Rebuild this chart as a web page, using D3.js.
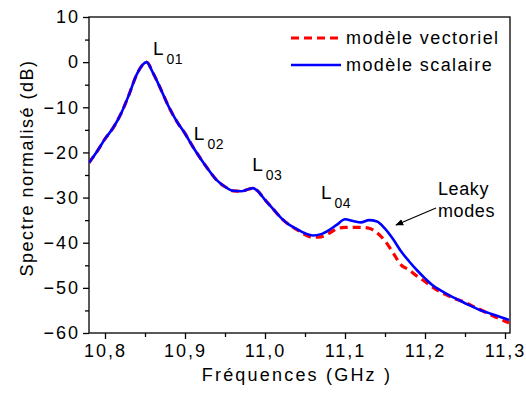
<!DOCTYPE html>
<html>
<head>
<meta charset="utf-8">
<script src="https://cdn.jsdelivr.net/npm/d3@7"></script>
<style>
  body { margin: 0; background: #fff; }
  text { font-family: "Liberation Sans", Arial, sans-serif; fill: #000; }
</style>
</head>
<body>
<div id="chart"></div>
<script>
// frequencies (GHz)
var freq = [10.78, 10.79, 10.80, 10.81, 10.82, 10.83, 10.84, 10.852, 10.86, 10.87, 10.88, 10.89,
    10.90, 10.91, 10.92, 10.93, 10.94, 10.95, 10.96, 10.97, 10.98, 10.985, 10.99, 11.00, 11.01,
    11.02, 11.03, 11.04, 11.05, 11.06, 11.07, 11.08, 11.09, 11.10, 11.11, 11.12, 11.13, 11.14,
    11.15, 11.16, 11.17, 11.18, 11.19, 11.20, 11.21, 11.22, 11.23, 11.24, 11.25, 11.26, 11.27,
    11.28, 11.29, 11.30, 11.305];
// modèle scalaire (dB)
var scalaire = [-22.3, -19.8, -17.0, -14.6, -11.4, -7.2, -2.6, 0, -2.4, -6.1, -10.0, -13.2,
    -15.8, -18.8, -21.5, -24.0, -26.2, -27.6, -28.5, -28.6, -28.1, -27.9, -28.4, -30.5, -32.5,
    -34.5, -36.0, -37.0, -37.9, -38.4, -38.1, -37.2, -36.0, -34.8, -35.2, -35.5, -35.0, -35.3,
    -36.9, -39.2, -41.9, -44.1, -46.1, -47.9, -49.5, -50.6, -51.6, -52.5, -53.4, -54.2, -55.0,
    -55.6, -56.2, -56.8, -57.1];
// modèle vectoriel (dB)
var vectoriel = [-22.3, -19.8, -17.0, -14.6, -11.4, -7.2, -2.6, 0, -2.4, -6.1, -10.0, -13.2,
    -15.8, -18.8, -21.5, -24.0, -26.2, -27.6, -28.5, -28.6, -28.1, -27.9, -28.4, -30.5, -32.5,
    -34.5, -36.0, -37.1, -38.2, -38.8, -38.7, -37.9, -36.9, -36.6, -36.6, -36.6, -36.8, -37.8,
    -39.6, -42.2, -44.9, -46.0, -47.4, -48.6, -49.9, -51.0, -51.8, -52.6, -53.2, -54.1, -54.9,
    -55.8, -56.6, -57.4, -57.8];

var xMajor = [10.8, 10.9, 11.0, 11.1, 11.2, 11.3];
var xMinor = [10.85, 10.95, 11.05, 11.15, 11.25];
var yMajor = [-60, -50, -40, -30, -20, -10, 0, 10];
var yMinor = [-55, -45, -35, -25, -15, -5, 5];

var labels = [
    {main: "L", sub: "01", f: 10.86, v: 1.5},
    {main: "L", sub: "02", f: 10.911, v: -17.2},
    {main: "L", sub: "03", f: 10.984, v: -24.2},
    {main: "L", sub: "04", f: 11.070, v: -30.4}
];

var W = 526, H = 402;
var pLeft = 89, pRight = 510, pTop = 17, pBottom = 333;
var font = 18;

var svg = d3.select("#chart").append("svg")
    .attr("width", W)
    .attr("height", H);

var x = d3.scaleLinear().domain([10.78, 11.30625]).range([pLeft, pRight]);
var y = d3.scaleLinear().domain([-60, 10]).range([pBottom, pTop]);

var comma = function(d) { return d3.format(".1f")(d).replace(".", ","); };

// axes
svg.append("g")
    .attr("transform", "translate(0," + pBottom + ")")
    .call(d3.axisBottom(x).tickValues(xMajor).tickSize(6).tickPadding(5).tickFormat(comma));
svg.append("g")
    .attr("transform", "translate(0," + pBottom + ")")
    .call(d3.axisBottom(x).tickValues(xMinor).tickSize(4).tickFormat(""));
var ya = svg.append("g")
    .attr("transform", "translate(" + pLeft + ",0)")
    .call(d3.axisLeft(y).tickValues(yMajor).tickSize(6).tickPadding(4));
svg.append("g")
    .attr("transform", "translate(" + pLeft + ",0)")
    .call(d3.axisLeft(y).tickValues(yMinor).tickSize(4).tickFormat(""));

svg.selectAll(".domain").remove();
svg.selectAll(".tick line").attr("stroke", "#000").attr("stroke-width", 1.3);
svg.selectAll(".tick text")
    .style("font-size", font + "px")
    .style("letter-spacing", "2px")
    .attr("fill", "#000");
ya.selectAll(".tick text").attr("x", -9);

// frame
svg.append("rect")
    .attr("x", pLeft).attr("y", pTop)
    .attr("width", pRight - pLeft).attr("height", pBottom - pTop)
    .attr("fill", "none").attr("stroke", "#000").attr("stroke-width", 1.3);

// curves
svg.append("clipPath").attr("id", "clip")
    .append("rect").attr("x", pLeft).attr("y", pTop)
    .attr("width", pRight - pLeft).attr("height", pBottom - pTop);

var line = function(vals) {
    return d3.line()
        .x(function(d, i) { return x(freq[i]); })
        .y(function(d) { return y(d); })
        .curve(d3.curveMonotoneX)(vals);
};

svg.append("path")
    .attr("d", line(vectoriel))
    .attr("clip-path", "url(#clip)")
    .attr("fill", "none")
    .attr("stroke", "#ff0000")
    .attr("stroke-width", 3.2)
    .attr("stroke-dasharray", "8,5");

svg.append("path")
    .attr("d", line(scalaire))
    .attr("clip-path", "url(#clip)")
    .attr("fill", "none")
    .attr("stroke", "#0000ff")
    .attr("stroke-width", 2.6);

// mode labels
labels.forEach(function(l) {
    var t = svg.append("text")
        .attr("x", x(l.f))
        .attr("y", y(l.v))
        .style("font-size", "19px");
    t.append("tspan").text(l.main);
    t.append("tspan").attr("dx", 3).attr("dy", 9)
        .style("font-size", "14px").style("letter-spacing", "0.5px").text(l.sub);
});

// leaky modes
svg.append("text").attr("x", 438).attr("y", 195)
    .style("font-size", font + "px").style("letter-spacing", "0.6px").text("Leaky");
svg.append("text").attr("x", 438).attr("y", 217)
    .style("font-size", font + "px").style("letter-spacing", "0.6px").text("modes");

svg.append("defs").append("marker")
    .attr("id", "arrow")
    .attr("viewBox", "0 0 10 10")
    .attr("refX", 9).attr("refY", 5)
    .attr("markerWidth", 8).attr("markerHeight", 8)
    .attr("markerUnits", "userSpaceOnUse")
    .attr("orient", "auto")
    .append("path").attr("d", "M0,1 L10,5 L0,9 z").attr("fill", "#000");

svg.append("line")
    .attr("x1", 436).attr("y1", 208)
    .attr("x2", 396).attr("y2", 225)
    .attr("stroke", "#000").attr("stroke-width", 1.2)
    .attr("marker-end", "url(#arrow)");

// legend
var legend = [
    {name: "modèle vectoriel", color: "#ff0000", dash: "8,5", width: 3.2},
    {name: "modèle scalaire", color: "#0000ff", dash: null, width: 2.6}
];
legend.forEach(function(d, i) {
    var ly = 38 + i * 27;
    svg.append("line")
        .attr("x1", 291).attr("x2", 341)
        .attr("y1", ly).attr("y2", ly)
        .attr("stroke", d.color)
        .attr("stroke-width", d.width)
        .attr("stroke-dasharray", d.dash);
    svg.append("text")
        .attr("x", 346).attr("y", ly + 6)
        .style("font-size", font + "px")
        .style("letter-spacing", "1.4px")
        .text(d.name);
});

// axis titles
svg.append("text")
    .attr("x", 297)
    .attr("y", 381)
    .attr("text-anchor", "middle")
    .style("font-size", font + "px")
    .style("letter-spacing", "2.2px")
    .text("Fréquences (GHz )");

svg.append("text")
    .attr("transform", "translate(33," + 168 + ") rotate(-90)")
    .attr("text-anchor", "middle")
    .style("font-size", font + "px")
    .style("letter-spacing", "1.5px")
    .text("Spectre normalisé (dB)");
</script>
</body>
</html>
